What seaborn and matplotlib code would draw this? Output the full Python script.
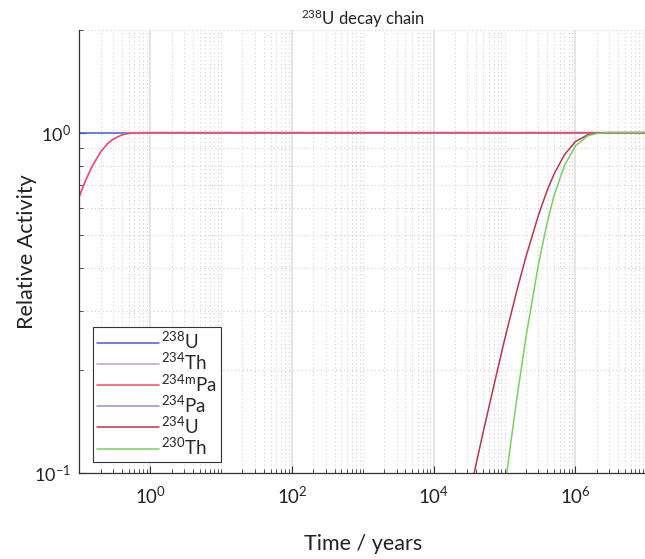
import pandas as pd
import seaborn as sns
import matplotlib.pyplot as plt
from matplotlib.ticker import LogLocator, NullFormatter, LogFormatterMathtext, FixedLocator
import numpy as np

# values (time in years, activity relative to 238U)
t_u238 = [0.1, 1e7]
a_u238 = [1.0, 1.0]

t_th234 = [0.1, 0.12, 0.15, 0.2, 0.25, 0.3, 0.4, 0.5, 0.7, 1.0, 1e7]
a_th234 = [0.65, 0.716, 0.793, 0.878, 0.928, 0.957, 0.985, 0.995, 0.9994, 1.0, 1.0]

t_pa234m = t_th234
a_pa234m = a_th234

t_pa234 = t_th234
a_pa234 = [0.00104, 0.00115, 0.00127, 0.0014, 0.00148, 0.00153, 0.00158, 0.00159, 0.0016, 0.0016, 0.0016]

t_u234 = [3.5e4, 4e4, 5e4, 7e4, 1e5, 1.5e5, 2e5, 3e5, 4e5, 5e5, 7e5, 1e6, 1.5e6, 2e6, 3e6, 1e7]
a_u234 = [0.094, 0.107, 0.132, 0.179, 0.246, 0.345, 0.431, 0.571, 0.677, 0.756, 0.861, 0.941, 0.986, 0.9965, 0.9998, 1.0]

t_th230 = [9e4, 1e5, 1.2e5, 1.5e5, 2e5, 3e5, 4e5, 5e5, 7e5, 1e6, 1.5e6, 2e6, 3e6, 1e7]
a_th230 = [0.074, 0.089, 0.119, 0.167, 0.250, 0.409, 0.545, 0.653, 0.801, 0.914, 0.979, 0.995, 0.9997, 1.0]

x_ticks = [1e0, 1e2, 1e4, 1e6]

labels = [r"$^{238}$U", r"$^{234}$Th", r"$^{234\mathrm{m}}$Pa", r"$^{234}$Pa", r"$^{234}$U", r"$^{230}$Th"]
colors = ["#3f63cc", "#c994c9", "#f7496c", "#a788c4", "#b5374f", "#7ccf62"]

series = [(t_u238, a_u238), (t_th234, a_th234), (t_pa234m, a_pa234m),
          (t_pa234, a_pa234), (t_u234, a_u234), (t_th230, a_th230)]
df = pd.concat([pd.DataFrame({"time": t, "activity": a, "nuclide": lab})
                for lab, (t, a) in zip(labels, series)], ignore_index=True)

sns.set_theme(style="ticks")
plt.rcParams["font.family"] = ["Lato", "DejaVu Sans"]
plt.rcParams["mathtext.fontset"] = "custom"
plt.rcParams["mathtext.rm"] = "Lato"
plt.rcParams["mathtext.it"] = "Lato:italic"
plt.rcParams["mathtext.bf"] = "Lato:bold"

fig = plt.figure(figsize=(6.45, 5.59), dpi=100)
ax = fig.add_axes([0.123, 0.154, 0.879, 0.792])

sns.lineplot(df, x="time", y="activity", hue="nuclide", hue_order=labels,
             palette=colors, estimator=None, sort=False, lw=1.1, ax=ax)

ax.set_xscale("log")
ax.set_yscale("log")
ax.set_xlim(0.1, 1e7)
ax.set_ylim(0.1, 2)

ax.xaxis.set_major_locator(FixedLocator(x_ticks))
ax.xaxis.set_minor_locator(LogLocator(base=10, subs=np.arange(1, 10), numticks=20))
ax.xaxis.set_major_formatter(LogFormatterMathtext(base=10))
ax.xaxis.set_minor_formatter(NullFormatter())
ax.yaxis.set_minor_locator(LogLocator(base=10, subs=np.arange(2, 10), numticks=20))
ax.yaxis.set_minor_formatter(NullFormatter())

ax.grid(which="major", axis="x", color="#dedede", ls="-", lw=1.1)
ax.grid(which="major", axis="y", color="#cfcfcf", ls=(0, (1, 2.5)), lw=0.8)
ax.grid(which="minor", color="#cfcfcf", ls=(0, (1, 2.5)), lw=0.8)
ax.set_axisbelow(True)

ax.tick_params(which="both", direction="in", colors="#333333", labelcolor="#222222")
ax.tick_params(which="major", length=5, width=0.8)
ax.tick_params(axis="x", which="major", pad=9, labelsize=13.5)
ax.tick_params(axis="y", which="major", pad=6, labelsize=13)
ax.tick_params(which="minor", length=3, width=0.6)
sns.despine(ax=ax)
for s in ["left", "bottom"]:
    ax.spines[s].set_color("#333333")
    ax.spines[s].set_linewidth(0.9)

ax.set_title(r"$^{238}$U decay chain", fontsize=12, pad=4, color="#222222")
ax.set_xlabel("Time / years", fontsize=15.5, labelpad=20, color="#222222")
ax.set_ylabel("Relative Activity", fontsize=15.5, color="#222222")
ax.yaxis.set_label_coords(-0.075, 0.5)

leg = ax.legend(loc="lower left", bbox_to_anchor=(0.024, 0.025), borderaxespad=0,
                fontsize=13.5, handlelength=3.3, labelspacing=0.0, borderpad=0.2,
                handletextpad=0.15, fancybox=False, framealpha=1, edgecolor="#333333")
leg.get_frame().set_linewidth(0.8)

plt.savefig("out.png", dpi=100)
